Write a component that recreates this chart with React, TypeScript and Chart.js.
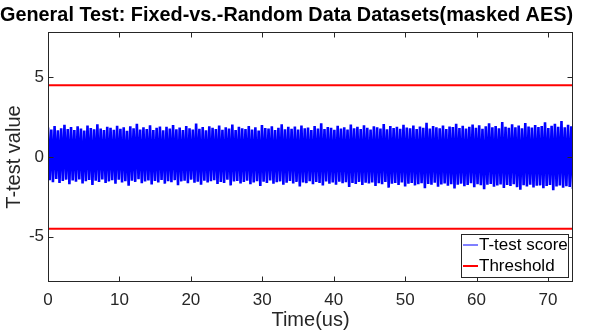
import React, { useEffect, useRef } from "react";
import { Chart, registerables } from "chart.js";

Chart.register(...registerables);

const titleText = "General Test: Fixed-vs.-Random Data Datasets(masked AES)";
const xTitle = "Time(us)";
const yTitle = "T-test value";
const xTicks = [0, 10, 20, 30, 40, 50, 60, 70];
const yTicks = [-5, 0, 5];
const xMax = 73.5;
const yLimit = 7.84;
const thresholdLevels = [4.5, -4.5];
const seriesLabels = ["T-test score", "Threshold"];

// upper (positive) excursions of the t-test trace, read left to right
const scorePeaks = [
  1.85, 1.72, 1.95, 1.68, 1.8, 2.02, 1.75, 1.88, 1.7, 1.92,
  1.78, 1.66, 1.98, 1.82, 1.74, 2.05, 1.79, 1.69, 1.9, 1.84,
  1.71, 1.96, 1.77, 1.87, 1.65, 1.93, 1.81, 2.08, 1.73, 1.86,
  1.76, 1.99, 1.7, 1.83, 1.91, 1.67, 1.89, 1.78, 2.01, 1.74,
  1.85, 1.69, 1.94, 1.8, 1.72, 2.1, 1.77, 1.88, 1.68, 1.92,
  1.83, 1.75, 1.97, 1.71, 1.86, 1.79, 2.03, 1.7, 1.9, 1.81,
  1.76, 1.95, 1.73, 1.87, 1.66, 2.0, 1.82, 1.78, 1.93, 1.69,
  1.84, 2.06, 1.74, 1.89, 1.77, 1.91, 1.72, 1.98, 1.8, 1.85,
  1.7, 1.94, 1.79, 2.12, 1.75, 1.88, 1.83, 1.71, 1.96, 1.78,
  1.86, 1.73, 2.04, 1.81, 1.9, 1.76, 1.99, 1.84, 1.72, 1.93,
  1.87, 1.79, 2.07, 1.74, 1.95, 1.82, 1.89, 1.77, 2.02, 1.85,
  1.8, 1.97, 1.75, 1.91, 1.83, 2.15, 1.78, 1.94, 1.86, 1.81,
  1.98, 1.76, 1.92, 1.88, 2.09, 1.82, 1.96, 1.79, 1.9, 2.03,
  1.84, 1.99, 1.77, 1.93, 2.11, 1.86, 1.95, 1.81, 2.2, 1.89,
  1.83, 2.05, 1.87, 1.97, 1.8, 2.13, 1.91, 1.85, 2.01, 1.88,
  1.94, 2.18, 1.82, 1.96, 2.08, 1.9, 2.25, 1.86, 2.02, 1.93,
];

// lower (negative) excursions of the t-test trace, read left to right
const scoreTroughs = [
  -1.45, -1.58, -1.38, -1.62, -1.5, -1.42, -1.7, -1.47, -1.55, -1.4,
  -1.66, -1.52, -1.44, -1.75, -1.49, -1.57, -1.41, -1.63, -1.53, -1.46,
  -1.68, -1.43, -1.59, -1.51, -1.8, -1.48, -1.56, -1.39, -1.64, -1.54,
  -1.47, -1.72, -1.5, -1.6, -1.44, -1.67, -1.52, -1.58, -1.45, -1.77,
  -1.53, -1.49, -1.65, -1.42, -1.61, -1.55, -1.73, -1.48, -1.59, -1.51,
  -1.46, -1.69, -1.56, -1.62, -1.43, -1.78, -1.54, -1.5, -1.66, -1.57,
  -1.49, -1.71, -1.6, -1.52, -1.82, -1.55, -1.63, -1.47, -1.68, -1.58,
  -1.53, -1.74, -1.61, -1.5, -1.66, -1.56, -1.85, -1.59, -1.64, -1.52,
  -1.7, -1.57, -1.62, -1.79, -1.54, -1.67, -1.6, -1.73, -1.55, -1.65,
  -1.58, -1.88, -1.63, -1.69, -1.56, -1.76, -1.61, -1.66, -1.59, -1.81,
  -1.64, -1.7, -1.57, -1.92, -1.67, -1.62, -1.75, -1.6, -1.84, -1.68,
  -1.63, -1.78, -1.71, -1.65, -1.95, -1.69, -1.74, -1.61, -1.87, -1.72,
  -1.66, -1.8, -1.7, -1.98, -1.73, -1.67, -1.83, -1.76, -1.64, -1.9,
  -1.71, -1.77, -2.02, -1.74, -1.69, -1.86, -1.79, -1.72, -1.94, -1.75,
  -1.81, -1.7, -1.89, -2.05, -1.77, -1.84, -1.73, -1.91, -1.8, -1.78,
  -1.96, -1.82, -1.75, -2.08, -1.85, -1.79, -1.93, -1.83, -1.88, -2.0,
];

const AXIS_COLOR = "#262626";
const FONT = "Arial, 'Liberation Sans', sans-serif";

const boxPlugin = {
  id: "matlabBox",
  afterDatasetsDraw(chart: any) {
    const { ctx, chartArea: a, scales } = chart;
    const L = Math.round(a.left) + 0.5;
    const R = Math.round(a.right) - 0.5;
    const T = Math.round(a.top) + 0.5;
    const B = Math.round(a.bottom) - 0.5;
    ctx.save();
    ctx.strokeStyle = AXIS_COLOR;
    ctx.lineWidth = 1;
    ctx.beginPath();
    const tl = 5;
    scales.x.ticks.forEach((t: any) => {
      const px = Math.round(scales.x.getPixelForValue(t.value)) + 0.5;
      ctx.moveTo(px, B);
      ctx.lineTo(px, B - tl);
      ctx.moveTo(px, T);
      ctx.lineTo(px, T + tl);
    });
    scales.y.ticks.forEach((t: any) => {
      const py = Math.round(scales.y.getPixelForValue(t.value)) + 0.5;
      ctx.moveTo(L, py);
      ctx.lineTo(L + tl, py);
      ctx.moveTo(R, py);
      ctx.lineTo(R - tl, py);
    });
    ctx.stroke();
    ctx.strokeRect(L, T, R - L, B - T);

    // legend (inside, bottom-right)
    const ds = chart.data.datasets;
    const lx = 461.5, ly = 234.5, lw = 107, lh = 43;
    ctx.fillStyle = "#ffffff";
    ctx.fillRect(lx, ly, lw, lh);
    ctx.strokeStyle = AXIS_COLOR;
    ctx.strokeRect(lx, ly, lw, lh);
    const rows = [
      { label: ds[0].label, color: ds[0].borderColor, w: 1, y: 245 },
      { label: ds[1].label, color: ds[1].borderColor, w: 2, y: 266 },
    ];
    ctx.font = `17px ${FONT}`;
    ctx.textBaseline = "middle";
    ctx.textAlign = "left";
    rows.forEach((r) => {
      ctx.beginPath();
      ctx.strokeStyle = r.color;
      ctx.lineWidth = r.w;
      ctx.moveTo(463, r.y);
      ctx.lineTo(478, r.y);
      ctx.stroke();
      ctx.fillStyle = "#000000";
      ctx.fillText(r.label, 479, r.y);
    });
    ctx.restore();
  },
};

export default function App() {
  const ref = useRef<HTMLCanvasElement | null>(null);

  useEffect(() => {
    if (!ref.current) return;
    const n = scorePeaks.length + scoreTroughs.length;
    const trace: { x: number; y: number }[] = [];
    for (let i = 0; i < scorePeaks.length; i++) {
      trace.push({ x: 0, y: scorePeaks[i] });
      trace.push({ x: 0, y: scoreTroughs[i] });
    }
    trace.forEach((p, i) => (p.x = (i * xMax) / (n - 1)));

    const chart = new Chart(ref.current, {
      type: "line",
      data: {
        datasets: [
          {
            label: seriesLabels[0],
            data: trace,
            borderColor: "#0000ff",
            borderWidth: 2.6,
            borderJoinStyle: "bevel",
            pointRadius: 0,
            tension: 0,
          },
          {
            label: seriesLabels[1],
            data: [
              { x: 0, y: thresholdLevels[0] },
              { x: xMax, y: thresholdLevels[0] },
            ],
            borderColor: "#ff0000",
            borderWidth: 2,
            pointRadius: 0,
          },
          {
            label: seriesLabels[1],
            data: [
              { x: 0, y: thresholdLevels[1] },
              { x: xMax, y: thresholdLevels[1] },
            ],
            borderColor: "#ff0000",
            borderWidth: 2,
            pointRadius: 0,
          },
        ],
      },
      options: {
        animation: false,
        responsive: false,
        devicePixelRatio: 1,
        layout: { padding: { left: 0, right: 39, top: 0, bottom: 0 } },
        plugins: {
          legend: { display: false },
          tooltip: { enabled: false },
          title: {
            display: true,
            text: titleText,
            color: "#000000",
            font: { family: FONT, size: 20.2, weight: "bold", lineHeight: 1.2 },
            padding: { top: 3, bottom: 4.8 },
          },
        },
        scales: {
          x: {
            type: "linear",
            min: 0,
            max: xMax,
            afterBuildTicks: (s: any) => {
              s.ticks = xTicks.map((v) => ({ value: v }));
            },
            afterFit: (s: any) => {
              s.height = 54;
            },
            grid: { display: false, drawTicks: false },
            border: { display: false },
            ticks: {
              color: AXIS_COLOR,
              font: { family: FONT, size: 17 },
              padding: 8,
              maxRotation: 0,
              autoSkip: false,
            },
            title: {
              display: true,
              text: xTitle,
              color: AXIS_COLOR,
              font: { family: FONT, size: 20, lineHeight: 1.2 },
              padding: { top: 0, bottom: 4 },
            },
          },
          y: {
            type: "linear",
            min: -yLimit,
            max: yLimit,
            afterBuildTicks: (s: any) => {
              s.ticks = yTicks.map((v) => ({ value: v }));
            },
            afterFit: (s: any) => {
              s.width = 48;
            },
            grid: { display: false, drawTicks: false },
            border: { display: false },
            ticks: {
              color: AXIS_COLOR,
              font: { family: FONT, size: 17 },
              padding: 4,
              autoSkip: false,
            },
            title: {
              display: true,
              text: yTitle,
              color: AXIS_COLOR,
              font: { family: FONT, size: 20, lineHeight: 1.2 },
              padding: { top: 2, bottom: 0 },
            },
          },
        },
      },
      plugins: [boxPlugin],
    } as any);
    return () => chart.destroy();
  }, []);

  return (
    <div style={{ position: "absolute", left: 0, top: 0, width: 612, height: 336, background: "#fff" }}>
      <canvas ref={ref} width={612} height={336} style={{ width: 612, height: 336, display: "block" }} />
    </div>
  );
}
